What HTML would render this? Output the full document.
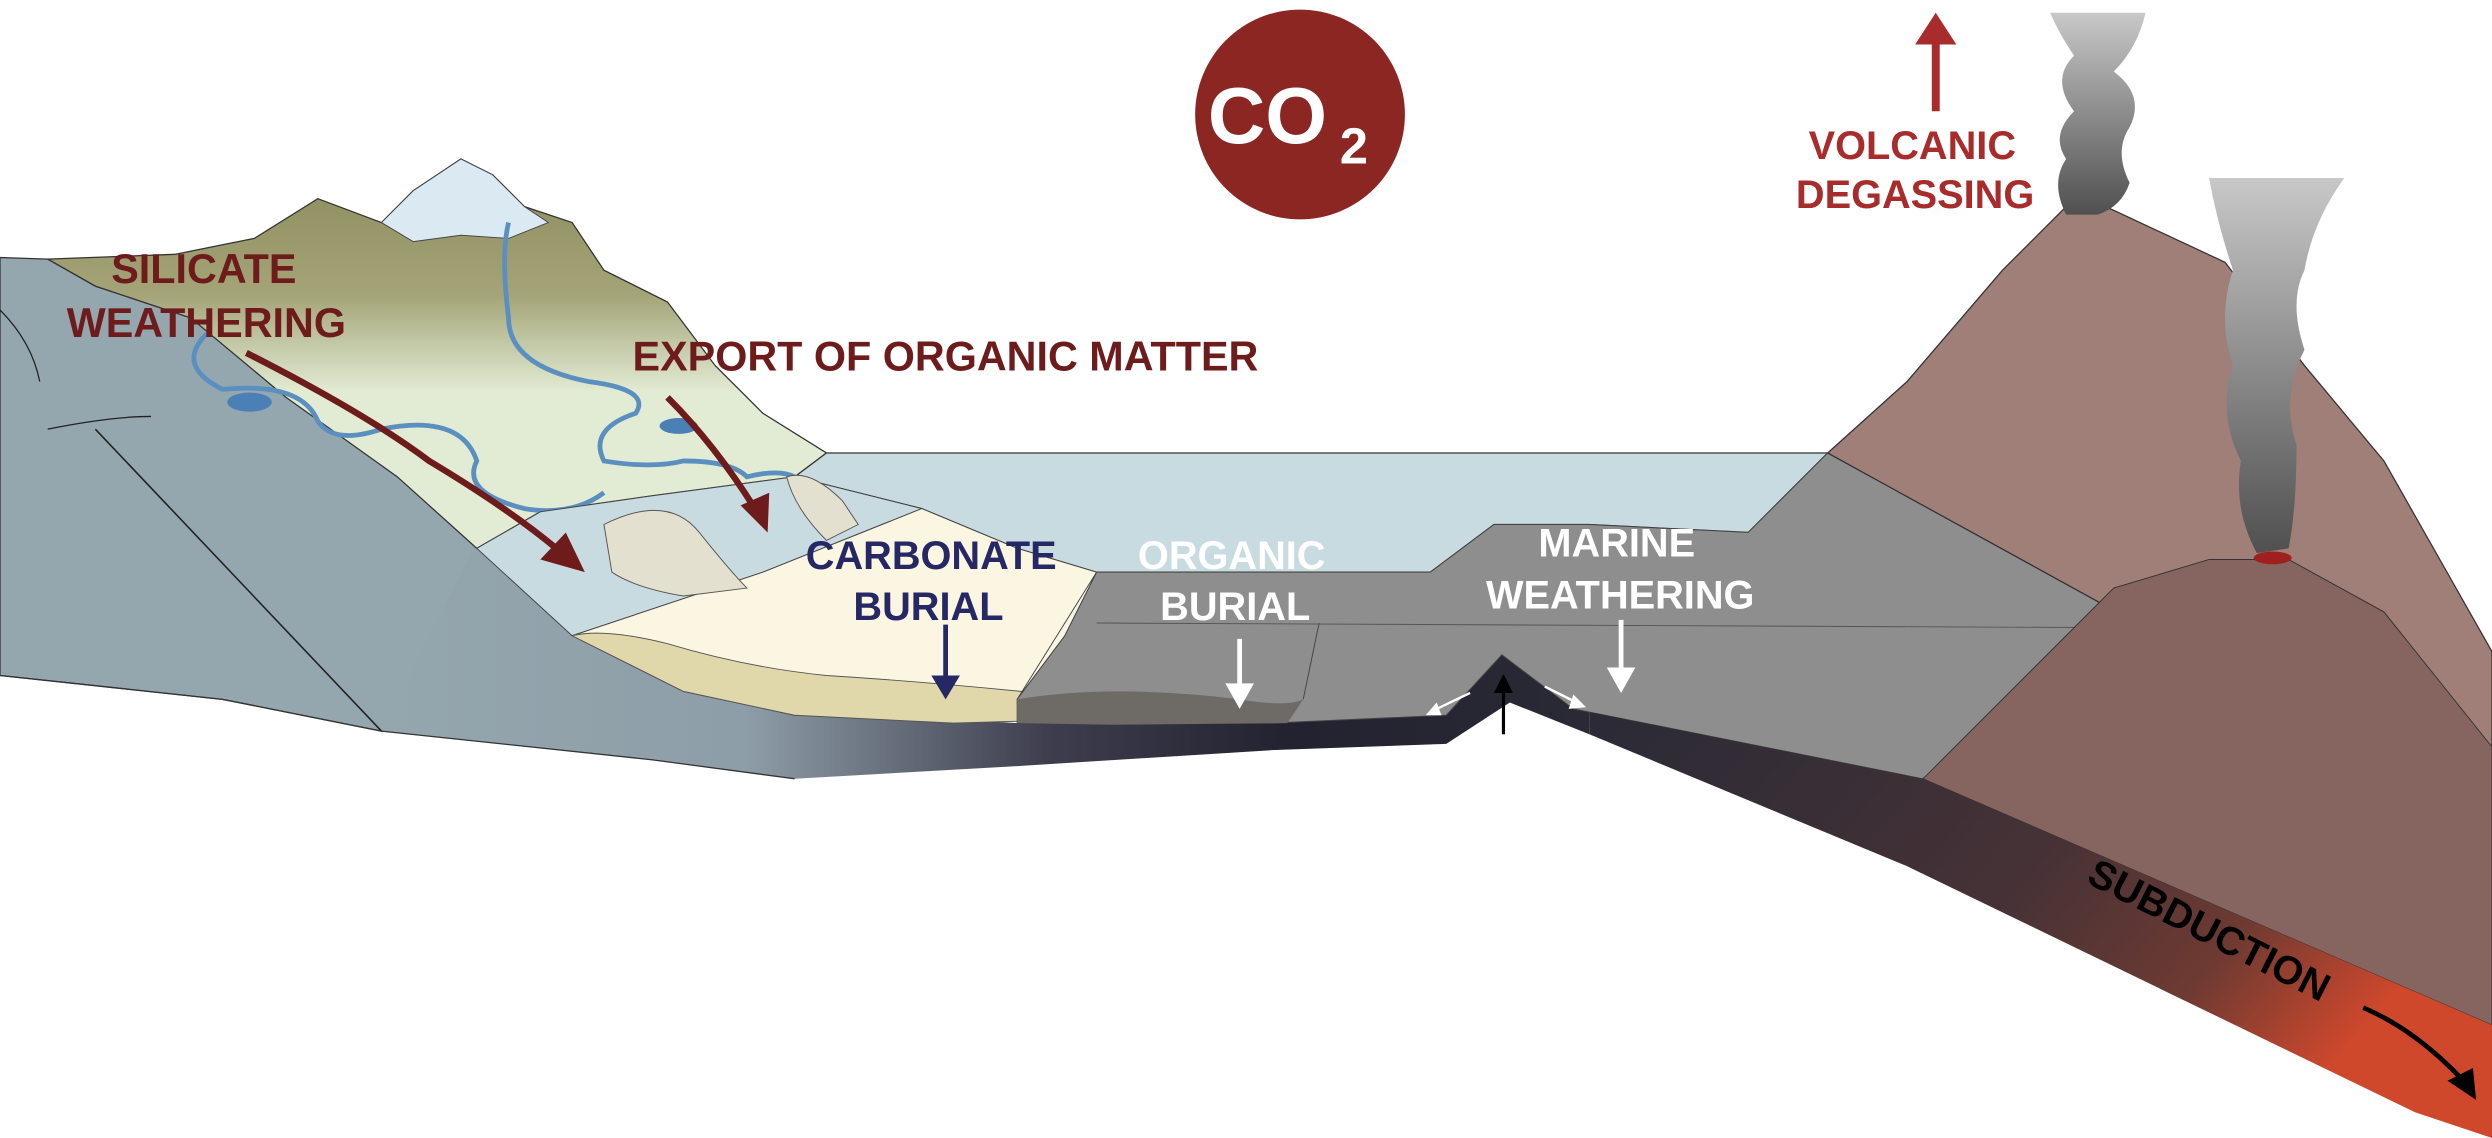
<!DOCTYPE html>
<html><head><meta charset="utf-8"><style>
html,body{margin:0;padding:0;background:#fff;}
svg{display:block;}
text{font-family:"Liberation Sans",Arial,sans-serif;font-weight:bold;}
</style></head><body>
<svg width="2492" height="1138" viewBox="0 0 1568 716" xmlns="http://www.w3.org/2000/svg">
<defs>
<linearGradient id="crust" x1="0" y1="0" x2="1" y2="0">
<stop offset="0" stop-color="#94a6ae"/><stop offset="0.3" stop-color="#8e9ea8"/><stop offset="0.55" stop-color="#3e3e4e"/><stop offset="0.75" stop-color="#222230"/><stop offset="1" stop-color="#2a2a36"/></linearGradient>
<linearGradient id="slab" x1="0" y1="0" x2="1" y2="0.4">
<stop offset="0" stop-color="#2a2a36"/><stop offset="0.55" stop-color="#463236"/><stop offset="0.8" stop-color="#6e3a32"/><stop offset="1" stop-color="#d0482c"/></linearGradient>
<linearGradient id="mtn" x1="0" y1="0" x2="0" y2="1">
<stop offset="0" stop-color="#8c8a5a"/><stop offset="0.35" stop-color="#a4a478"/><stop offset="0.6" stop-color="#e2ecd4"/></linearGradient>
<linearGradient id="plume" x1="0" y1="0" x2="0" y2="1">
<stop offset="0" stop-color="#c8c8c8"/><stop offset="1" stop-color="#505050"/></linearGradient>
</defs>
<path d="M0,162 L30,163 L60,180 L120,200 L200,250 L300,340 L360,400 L420,470 L300,462 L240,460 L140,440 L0,425 Z" fill="#94a6ae" stroke="#333" stroke-width="0.8"/>
<path d="M240,460 L300,340 L360,400 L410,412 L480,445 L640,455 L800,455 L910,450 L945,412 L990,446 L1000,448 L1000,462 L950,442 L910,468 L800,472 L640,482 L500,490 L410,478 Z" fill="url(#crust)"/>
<path d="M0,425 L140,440 L240,460 L410,478 L500,490" fill="none" stroke="#333" stroke-width="0.8"/>
<line x1="60" y1="270" x2="240" y2="460" stroke="#222" stroke-width="1"/>
<path d="M0,195 Q20,215 25,240" fill="none" stroke="#222" stroke-width="0.8"/>
<path d="M30,270 Q70,262 95,262" fill="none" stroke="#222" stroke-width="0.8"/>
<path d="M30,163 L110,160 L160,150 L200,125 L240,140 L260,120 L290,100 L310,110 L330,130 L360,140 L380,170 L420,190 L450,230 L480,260 L520,285 L500,300 L410,312 L340,322 L300,345 L250,300 L180,250 L120,200 L60,180 Z" fill="url(#mtn)" stroke="#333" stroke-width="0.8"/>
<path d="M240,140 L260,120 L290,100 L310,110 L330,130 L345,140 L320,150 L290,148 L260,152 Z" fill="#dbe9f3" stroke="#444" stroke-width="0.6"/>
<path d="M130,210 Q110,230 140,245 Q190,240 200,265 Q210,280 240,270 Q290,260 300,290 Q290,310 330,320 Q360,325 380,310" fill="none" stroke="#5a8fc0" stroke-width="3"/>
<path d="M320,140 Q315,160 320,200 Q320,230 370,240 Q410,245 400,260 Q370,270 380,290 Q410,295 430,290 Q460,290 470,300 Q490,295 500,300" fill="none" stroke="#5a8fc0" stroke-width="3"/>
<ellipse cx="157" cy="253" rx="14" ry="6" fill="#4a80b6"/>
<ellipse cx="427" cy="268" rx="12" ry="5" fill="#4a80b6"/>
<path d="M520,285 L1150,285 L1100,335 L1000,330 L940,330 L900,360 L690,360 L640,345 L580,320 L500,300 Z" fill="#c8dbe1" stroke="#333" stroke-width="0.8"/>
<path d="M300,345 L340,322 L410,312 L500,300 L580,320 L480,360 L420,380 L360,400 Z" fill="#c8dbe1" stroke="#444" stroke-width="0.6"/>
<path d="M360,400 L420,380 L480,360 L580,320 L640,345 L690,360 L670,400 L640,440 L600,452 L500,450 L430,435 Z" fill="#fbf6e2" stroke="#444" stroke-width="0.6"/>
<path d="M360,400 Q380,395 420,405 Q470,420 520,425 Q600,430 690,440 L700,452 L600,455 L500,450 L430,435 Z" fill="#e0d8ab" stroke="#555" stroke-width="0.6"/>
<path d="M380,330 Q420,310 440,335 Q460,360 470,370 L430,375 Q400,370 385,360 Z" fill="#e4e0d0" stroke="#555" stroke-width="0.6"/>
<path d="M495,300 Q510,295 530,315 L540,330 L520,340 Q500,320 495,300Z" fill="#e4e0d0" stroke="#555" stroke-width="0.6"/>
<path d="M690,360 L900,360 L940,330 L1000,330 L1100,335 L1150,285 L1350,395 L1210,490 L1000,448 L990,446 L945,412 L910,450 L800,455 L700,455 L640,455 L640,440 L670,400 Z" fill="#8e8e8e" stroke="#444" stroke-width="0.6"/>
<path d="M690,392 L1350,395" stroke="#555" stroke-width="0.6"/>
<path d="M640,440 Q700,430 780,440 Q810,445 820,440 L810,455 L700,456 L640,455Z" fill="#6e6a66"/>
<path d="M690,360 L640,440 M830,392 L820,440" stroke="#444" stroke-width="0.6" fill="none"/>
<path d="M1150,285 L1200,240 L1260,170 L1300,130 L1325,130 L1400,165 L1450,230 L1500,290 L1568,410 L1568,645 L1210,490 L1350,395 Z" fill="#9f7f78" stroke="#333" stroke-width="0.8"/>
<path d="M1210,490 L1300,400 L1330,370 L1390,352 L1440,352 L1500,385 L1568,470 L1568,645 Z" fill="#866460" stroke="#333" stroke-width="0.6"/>
<ellipse cx="1430" cy="351" rx="12" ry="4" fill="#a02020"/>
<path d="M1000,448 L1210,490 L1568,645 L1568,716 L1520,700 L1200,545 L1000,462 Z" fill="url(#slab)"/>
<path d="M1290,8 L1350,8 Q1345,30 1330,45 Q1350,60 1340,80 Q1330,95 1340,115 Q1335,130 1320,135 L1300,135 Q1290,115 1300,100 Q1290,85 1305,70 Q1290,50 1305,35 Q1295,20 1290,8Z" fill="url(#plume)"/>
<path d="M1390,112 L1475,112 Q1455,140 1450,170 Q1440,190 1450,220 Q1435,250 1445,280 Q1445,320 1440,345 L1420,348 Q1405,320 1410,290 Q1395,260 1405,230 Q1395,200 1405,170 Q1395,140 1390,112Z" fill="url(#plume)"/>
<circle cx="818" cy="72" r="66" fill="#8c2622"/>
<text x="760" y="90" font-size="50" fill="#fff">CO</text>
<text x="843" y="103" font-size="32" fill="#fff">2</text>
<line x1="1218" y1="70" x2="1218" y2="25" stroke="#a82c2c" stroke-width="5"/>
<path d="M1205,28 L1218,8 L1231,28 Z" fill="#a82c2c"/>
<text x="1138" y="100" font-size="25" fill="#a82c2c">VOLCANIC</text>
<text x="1130" y="131" font-size="25" fill="#a82c2c">DEGASSING</text>
<text x="70" y="178" font-size="26" fill="#6e1b1b">SILICATE</text>
<text x="42" y="212" font-size="26" fill="#6e1b1b">WEATHERING</text>
<text x="398" y="233" font-size="26" fill="#6e1b1b">EXPORT OF ORGANIC MATTER</text>
<path d="M155,222 Q230,260 270,290 Q320,320 350,345" fill="none" stroke="#6e1b1b" stroke-width="4"/>
<path d="M340,352 L368,360 L356,335 Z" fill="#6e1b1b"/>
<path d="M420,250 Q450,280 475,320" fill="none" stroke="#6e1b1b" stroke-width="4"/>
<path d="M466,318 L483,335 L484,310 Z" fill="#6e1b1b"/>
<text x="507" y="358" font-size="25" fill="#252865">CARBONATE</text>
<text x="537" y="390" font-size="25" fill="#252865">BURIAL</text>
<line x1="595" y1="393" x2="595" y2="428" stroke="#252865" stroke-width="3"/>
<path d="M586,425 L595,440 L604,425Z" fill="#252865"/>
<text x="716" y="358" font-size="25" fill="#fff">ORGANIC</text>
<text x="730" y="390" font-size="25" fill="#fff">BURIAL</text>
<line x1="780" y1="402" x2="780" y2="432" stroke="#fff" stroke-width="3"/>
<path d="M771,430 L780,446 L789,430Z" fill="#fff"/>
<text x="968" y="350" font-size="25" fill="#fff">MARINE</text>
<text x="935" y="383" font-size="25" fill="#fff">WEATHERING</text>
<line x1="1020" y1="390" x2="1020" y2="422" stroke="#fff" stroke-width="3"/>
<path d="M1011,420 L1020,436 L1029,420Z" fill="#fff"/>
<line x1="946" y1="462" x2="946" y2="432" stroke="#000" stroke-width="2"/>
<path d="M940,436 L946,424 L952,436Z" fill="#000"/>
<path d="M925,436 L902,447" stroke="#fff" stroke-width="1.5"/><path d="M904,442 L897,450 L907,450Z" fill="#fff"/>
<path d="M972,432 L992,442" stroke="#fff" stroke-width="1.5"/><path d="M990,437 L998,445 L987,446Z" fill="#fff"/>
<text x="1312" y="555" font-size="25" fill="#000" transform="rotate(27 1312 555)">SUBDUCTION</text>
<path d="M1487,634 Q1520,648 1550,680" fill="none" stroke="#000" stroke-width="3"/>
<path d="M1540,680 L1558,692 L1556,672Z" fill="#000"/>
</svg>
</body></html>
